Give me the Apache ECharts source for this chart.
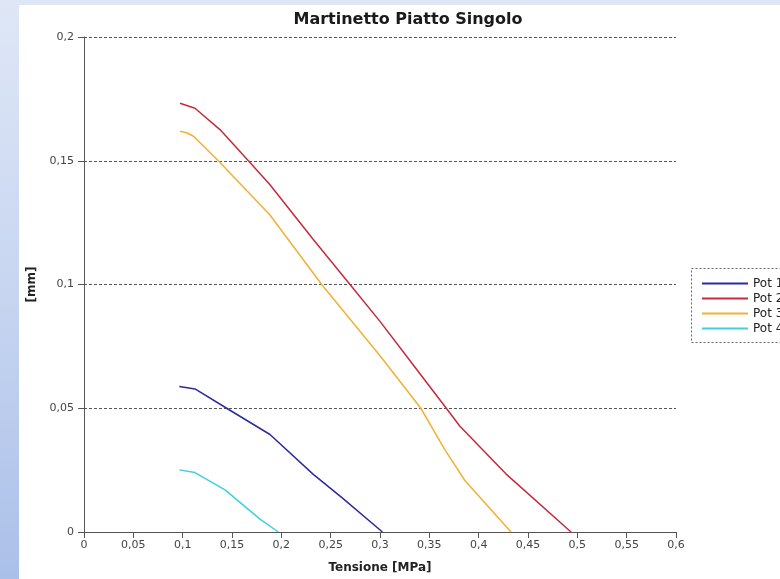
<!DOCTYPE html>
<html>
<head>
<meta charset="utf-8">
<script src="https://cdn.jsdelivr.net/npm/echarts@6/dist/echarts.min.js"></script>
<style>
  html, body { margin: 0; padding: 0; }
  body {
    width: 780px; height: 579px; position: relative; overflow: hidden;
    background: linear-gradient(to bottom, #dfe7f6 0%, #c7d5f0 50%, #abc0e9 100%);
  }
  #panel { position: absolute; left: 19px; top: 5px; right: 0; bottom: 0; background: #ffffff; }
  #chart { position: absolute; left: 0; top: 0; width: 780px; height: 579px; }
</style>
</head>
<body>
<div id="panel"></div>
<div id="chart"></div>
<script>
// Displacement [mm] vs applied stress [MPa] for the four transducers
const seriesNames = ['Pot 1', 'Pot 2', 'Pot 3', 'Pot 4'];

const pot1X = [0.0966, 0.1125, 0.1446, 0.1885, 0.2324, 0.2611, 0.3025];
const pot1Y = [0.0588, 0.0578, 0.0500, 0.0394, 0.0233, 0.0140, 0];

const pot2X = [0.0973, 0.1125, 0.1378, 0.1666, 0.1885, 0.2324, 0.2696, 0.3000, 0.3345, 0.3672, 0.3810, 0.4276, 0.4936];
const pot2Y = [0.1732, 0.1712, 0.1626, 0.1500, 0.1403, 0.1182, 0.1000, 0.0851, 0.0671, 0.0500, 0.0427, 0.0235, 0];

const pot3X = [0.0973, 0.1040, 0.1110, 0.1361, 0.1885, 0.2409, 0.3000, 0.3414, 0.3655, 0.3860, 0.4328];
const pot3Y = [0.1619, 0.1613, 0.1599, 0.1500, 0.1281, 0.1000, 0.0712, 0.0500, 0.0334, 0.0208, 0];

const pot4X = [0.0966, 0.1125, 0.1429, 0.1784, 0.1970];
const pot4Y = [0.0251, 0.0240, 0.0170, 0.0052, 0];

const xTicks = [0, 0.05, 0.1, 0.15, 0.2, 0.25, 0.3, 0.35, 0.4, 0.45, 0.5, 0.55, 0.6];
const yTicks = [0, 0.05, 0.1, 0.15, 0.2];

const colors = ['#2b2b9e', '#c62a3b', '#f1b135', '#3fd0e2'];

const pairs = (xs, ys) => xs.map((x, i) => [x, ys[i]]);
const seriesData = [pairs(pot1X, pot1Y), pairs(pot2X, pot2Y), pairs(pot3X, pot3Y), pairs(pot4X, pot4Y)];

const fmt = v => String(+(+v).toFixed(2)).replace('.', ',');
const FONT = 'DejaVu Sans';
const axisColor = '#555555';

const chart = echarts.init(document.getElementById('chart'), null, { renderer: 'canvas' });
chart.setOption({
  backgroundColor: 'transparent',
  animation: false,
  color: colors,
  title: {
    text: 'Martinetto Piatto Singolo',
    left: 403, top: 7, textAlign: 'center',
    textStyle: { fontFamily: FONT, fontSize: 16, fontWeight: 'bold', color: '#1a1a1a' }
  },
  grid: { left: 84, right: 104, top: 37, bottom: 43, containLabel: false },
  xAxis: {
    type: 'value',
    min: xTicks[0], max: xTicks[xTicks.length - 1], interval: 0.05,
    name: 'Tensione [MPa]', nameLocation: 'middle', nameGap: 30,
    nameTextStyle: { fontFamily: FONT, fontSize: 12, fontWeight: 'bold', color: '#222' },
    axisLine: { show: true, onZero: false, lineStyle: { color: axisColor, width: 1 } },
    axisTick: { show: true, length: 6, inside: false, lineStyle: { color: axisColor } },
    axisLabel: { fontFamily: FONT, fontSize: 11, color: '#444', margin: 8, formatter: fmt },
    splitLine: { show: false }
  },
  yAxis: {
    type: 'value',
    min: yTicks[0], max: yTicks[yTicks.length - 1], interval: 0.05,
    name: '[mm]', nameLocation: 'middle', nameGap: 46, nameRotate: 90,
    nameTextStyle: { fontFamily: FONT, fontSize: 12, fontWeight: 'bold', color: '#222' },
    axisLine: { show: true, onZero: false, lineStyle: { color: axisColor, width: 1 } },
    axisTick: { show: true, length: 6, inside: false, lineStyle: { color: axisColor } },
    axisLabel: { fontFamily: FONT, fontSize: 11, color: '#444', margin: 10, formatter: fmt },
    splitLine: { show: true, lineStyle: { color: axisColor, type: [3, 2], width: 1 } }
  },
  legend: {
    orient: 'vertical',
    left: 697, top: 271,
    icon: 'rect',
    itemWidth: 46, itemHeight: 2, itemGap: 0,
    data: seriesNames,
    textStyle: { fontFamily: FONT, fontSize: 12, color: '#222', lineHeight: 15, height: 15 }
  },
  graphic: [{
    type: 'rect',
    shape: { x: 691.5, y: 268.5, width: 120, height: 74 },
    style: { fill: 'none', stroke: '#666', lineWidth: 1, lineDash: [2, 2] },
    silent: true
  }],
  series: seriesNames.map((name, i) => ({
    name,
    type: 'line',
    data: seriesData[i],
    symbol: 'none',
    smooth: false,
    lineStyle: { color: colors[i], width: 1.5 },
    itemStyle: { color: colors[i] }
  }))
});
</script>
</body>
</html>
